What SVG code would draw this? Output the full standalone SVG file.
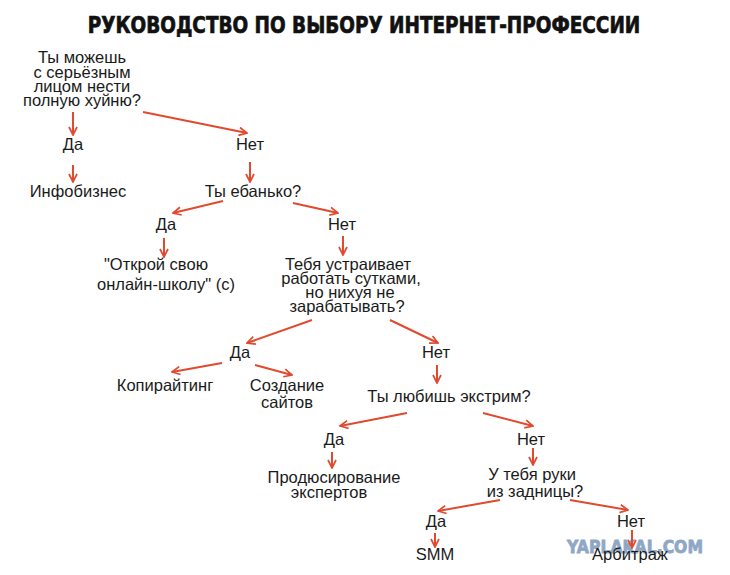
<svg xmlns="http://www.w3.org/2000/svg" width="730" height="575" viewBox="0 0 730 575">
<defs>
<marker id="ah" viewBox="0 0 10 10" refX="9" refY="5" markerWidth="10" markerHeight="10" markerUnits="userSpaceOnUse" orient="auto">
<path d="M1,1 L9,5 L1,9" fill="none" stroke="#e04a2e" stroke-width="1.7" stroke-linejoin="miter"/>
</marker>
<style>
.t{font-family:"Liberation Sans",Arial,sans-serif;font-size:16.5px;fill:#1a1a1a;text-anchor:middle}
.title{font-family:"DejaVu Sans Condensed","DejaVu Sans",sans-serif;font-weight:bold;font-size:20.5px;fill:#111;stroke:#111;stroke-width:0.6px;text-anchor:middle}
.c line{stroke:#e04a2e;stroke-width:2;marker-end:url(#ah)}
.wm{font-family:"DejaVu Sans","Liberation Sans",sans-serif;font-weight:bold;font-size:17px;fill:#8fa7c6;stroke:#8fa7c6;stroke-width:0.8px}
</style>
</defs>
<rect width="730" height="575" fill="#ffffff"/>
<text class="title" transform="translate(364,33) scale(1,1.15)" x="0" y="0">РУКОВОДСТВО ПО ВЫБОРУ ИНТЕРНЕТ-ПРОФЕССИИ</text>
<text class="wm" x="567" y="553" textLength="136" lengthAdjust="spacingAndGlyphs">YAPLAKAL.COM</text>

<g id="q1"><text class="t" x="82" y="63">Ты можешь</text><text class="t" x="82" y="78">с серьёзным</text><text class="t" x="82" y="92">лицом нести</text><text class="t" x="82" y="106">полную хуйню?</text></g>
<g id="q1-yes"><text class="t" x="73" y="150">Да</text></g>
<g id="infobiz"><text class="t" x="78" y="197">Инфобизнес</text></g>
<g id="q1-no"><text class="t" x="250" y="150">Нет</text></g>
<g id="q2"><text class="t" x="253" y="197">Ты ебанько?</text></g>
<g id="q2-yes"><text class="t" x="166" y="230">Да</text></g>
<g id="school"><text class="t" x="104" y="270" style="text-anchor:start">"Открой свою</text><text class="t" x="97" y="290" style="text-anchor:start">онлайн-школу" (с)</text></g>
<g id="q2-no"><text class="t" x="342" y="230">Нет</text></g>
<g id="q3"><text class="t" x="348" y="270">Тебя устраивает</text><text class="t" x="351" y="284">работать сутками,</text><text class="t" x="350" y="298">но нихуя не</text><text class="t" x="347" y="312">зарабатывать?</text></g>
<g id="q3-yes"><text class="t" x="240" y="358">Да</text></g>
<g id="copy"><text class="t" x="165" y="391">Копирайтинг</text></g>
<g id="sites"><text class="t" x="287" y="391">Создание</text><text class="t" x="287" y="408">сайтов</text></g>
<g id="q3-no"><text class="t" x="436" y="358">Нет</text></g>
<g id="q4"><text class="t" x="449" y="402">Ты любишь экстрим?</text></g>
<g id="q4-yes"><text class="t" x="334" y="445">Да</text></g>
<g id="prod"><text class="t" x="334" y="483">Продюсирование</text><text class="t" x="329" y="498">экспертов</text></g>
<g id="q4-no"><text class="t" x="531" y="445">Нет</text></g>
<g id="q5"><text class="t" x="532" y="480">У тебя руки</text><text class="t" x="535" y="497">из задницы?</text></g>
<g id="q5-yes"><text class="t" x="436" y="527">Да</text></g>
<g id="smm"><text class="t" x="435" y="560">SMM</text></g>
<g id="q5-no"><text class="t" x="631" y="527">Нет</text></g>
<g id="arb"><text class="t" x="630" y="560">Арбитраж</text></g>

<g id="connectors" class="c">
<line x1="73" y1="112" x2="73" y2="135"/>
<line x1="73" y1="165" x2="73" y2="182"/>
<line x1="143" y1="112" x2="247" y2="133"/>
<line x1="250" y1="162" x2="250" y2="182"/>
<line x1="223" y1="201" x2="173" y2="213"/>
<line x1="293" y1="203" x2="338" y2="213"/>
<line x1="164" y1="238" x2="164" y2="257"/>
<line x1="343" y1="236" x2="343" y2="255"/>
<line x1="312" y1="320" x2="247" y2="343"/>
<line x1="390" y1="320" x2="438" y2="343"/>
<line x1="222" y1="363" x2="172" y2="372"/>
<line x1="255" y1="365" x2="292" y2="375"/>
<line x1="437" y1="365" x2="437" y2="383"/>
<line x1="407" y1="413" x2="340" y2="426"/>
<line x1="483" y1="413" x2="533" y2="426"/>
<line x1="332" y1="452" x2="332" y2="468"/>
<line x1="533" y1="448" x2="533" y2="465"/>
<line x1="500" y1="500" x2="438" y2="511"/>
<line x1="570" y1="500" x2="628" y2="510"/>
<line x1="435" y1="533" x2="435" y2="547"/>
<line x1="632" y1="530" x2="632" y2="548"/>
</g>
</svg>
